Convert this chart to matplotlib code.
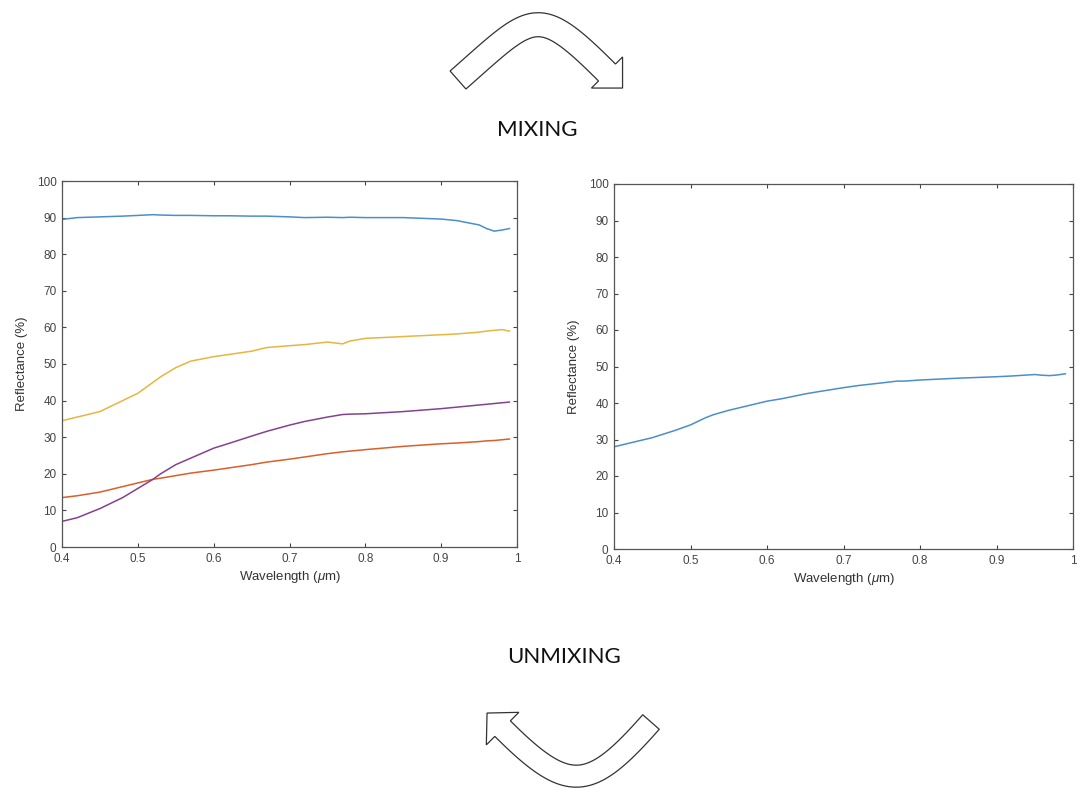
"""
Spectral mixing / unmixing figure.
"""

import matplotlib
matplotlib.use("Agg")
import matplotlib.pyplot as plt
import numpy as np
from matplotlib.patches import Polygon

# endmember spectra (left panel)
wl = [0.40, 0.42, 0.45, 0.48, 0.50, 0.52, 0.53, 0.55, 0.57, 0.60, 0.62, 0.65,
      0.67, 0.70, 0.72, 0.75, 0.77, 0.78, 0.80, 0.85, 0.90, 0.92, 0.95, 0.96,
      0.97, 0.98, 0.99]
snow = [89.5, 90.0, 90.2, 90.4, 90.6, 90.8, 90.7, 90.6, 90.6, 90.5, 90.5, 90.4,
        90.4, 90.2, 90.0, 90.1, 90.0, 90.1, 90.0, 90.0, 89.6, 89.2, 88.0, 87.0,
        86.3, 86.6, 87.0]
soil = [34.5, 35.5, 37.0, 40.0, 42.0, 45.0, 46.5, 49.0, 50.8, 52.0, 52.6, 53.5,
        54.5, 55.0, 55.3, 56.0, 55.5, 56.3, 57.0, 57.5, 58.0, 58.2, 58.7, 59.0,
        59.2, 59.4, 59.0]
veg = [7.0, 8.0, 10.5, 13.5, 16.0, 18.5, 20.0, 22.5, 24.3, 27.0, 28.3, 30.3,
       31.6, 33.3, 34.3, 35.5, 36.2, 36.3, 36.4, 37.0, 37.8, 38.2, 38.8, 39.0,
       39.2, 39.4, 39.6]
rock = [13.5, 14.0, 15.0, 16.5, 17.5, 18.5, 18.8, 19.5, 20.2, 21.0, 21.6, 22.5,
        23.2, 24.0, 24.6, 25.5, 26.0, 26.2, 26.6, 27.5, 28.2, 28.4, 28.8, 29.0,
        29.1, 29.3, 29.5]

# mixed spectrum (right panel)
mix = [28.0, 29.0, 30.5, 32.5, 34.0, 36.0, 36.8, 38.0, 39.0, 40.5, 41.2, 42.5,
       43.2, 44.2, 44.8, 45.5, 46.0, 46.0, 46.3, 46.8, 47.2, 47.4, 47.8, 47.6,
       47.5, 47.7, 48.0]

colors = ["#4a8fcc", "#d9602a", "#e8b540", "#85418f"]
xticks = [0.4, 0.5, 0.6, 0.7, 0.8, 0.9, 1.0]
xticklabels = ["0.4", "0.5", "0.6", "0.7", "0.8", "0.9", "1"]
yticks = list(range(0, 101, 10))

W, H = 1083, 790


def style(ax):
    ax.set_xlim(0.4, 1.0)
    ax.set_ylim(0, 100)
    ax.set_xticks(xticks)
    ax.set_xticklabels(xticklabels)
    ax.set_yticks(yticks)
    ax.tick_params(direction="in", length=3, width=0.8, top=True, right=True,
                   labelsize=8.5, colors="#444444", pad=4)
    for s in ax.spines.values():
        s.set_color("#555555")
        s.set_linewidth(0.9)
    ax.set_xlabel(r"Wavelength ($\mu$m)", fontsize=9.5, color="#333333",
                  labelpad=3)
    ax.set_ylabel("Reflectance (%)", fontsize=9.5, color="#333333", labelpad=6)


def block_arrow(fig, p0, d0, p3, d3, L, half_w, head_half, head_len):
    """curved block arrow, pixel coords (y down); d0/d3 are unit tangents"""
    p0, d0, p3, d3 = map(np.asarray, (p0, d0, p3, d3))
    p1 = p0 + L * d0
    p2 = p3 - L * d3
    t = np.linspace(0, 1, 80)[:, None]
    c = ((1 - t) ** 3) * p0 + 3 * ((1 - t) ** 2) * t * p1 \
        + 3 * (1 - t) * t ** 2 * p2 + t ** 3 * p3
    dc = 3 * ((1 - t) ** 2) * (p1 - p0) + 6 * (1 - t) * t * (p2 - p1) \
        + 3 * t ** 2 * (p3 - p2)
    dc = dc / np.linalg.norm(dc, axis=1)[:, None]
    nrm = np.column_stack([-dc[:, 1], dc[:, 0]])
    side_a = c + half_w * nrm
    side_b = c - half_w * nrm
    n3 = np.array([-d3[1], d3[0]])
    head = [p3 + head_half * n3, p3 + head_len * d3, p3 - head_half * n3]
    pts = np.vstack([side_a, head, side_b[::-1]])
    pts = np.column_stack([pts[:, 0] / W, 1 - pts[:, 1] / H])
    fig.patches.append(Polygon(pts, closed=True, transform=fig.transFigure,
                               facecolor="white", edgecolor="#333333",
                               lw=0.9, joinstyle="miter"))


if __name__ == "__main__":
    plt.rcParams["font.family"] = ["Liberation Sans", "DejaVu Sans"]
    plt.rcParams["mathtext.fontset"] = "custom"
    plt.rcParams["mathtext.it"] = "Liberation Sans:italic"
    fig = plt.figure(figsize=(W / 100, H / 100), dpi=100)

    ax1 = fig.add_axes([62 / W, 1 - 547 / H, 455 / W, 366 / H])
    for y, c in zip([snow, rock, soil, veg], colors):
        ax1.plot(wl, y, color=c, lw=1.1)
    style(ax1)

    ax2 = fig.add_axes([614 / W, 1 - 549 / H, 459 / W, 365 / H])
    ax2.plot(wl, mix, color=colors[0], lw=1.1)
    style(ax2)

    r2 = 1 / np.sqrt(2)
    # top arrow: up and over to the right
    block_arrow(fig, (458, 80), (0.75, -0.66), (607, 72.5), (r2, r2),
                L=100, half_w=12, head_half=22, head_len=22)
    # bottom arrow: down and under to the left
    block_arrow(fig, (651, 722), (-0.66, 0.75), (502.6, 728.6), (-r2, -r2),
                L=93, half_w=11, head_half=23, head_len=22)

    fig.text(537 / W, 1 - 130 / H, "MIXING", ha="center", va="center",
             fontsize=16, family=["Lato", "DejaVu Sans"], color="#111111")
    fig.text(564 / W, 1 - 657 / H, "UNMIXING", ha="center", va="center",
             fontsize=16, family=["Lato", "DejaVu Sans"], color="#111111")

    fig.savefig("out.png", dpi=100, facecolor="white")
